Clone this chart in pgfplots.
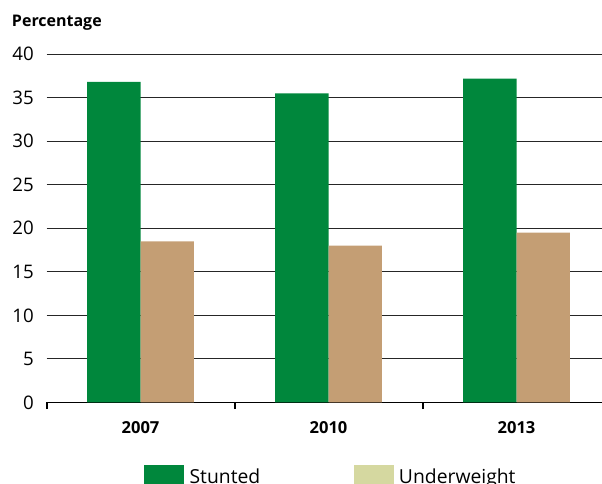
\documentclass[border=0pt]{standalone}
\usepackage{fontspec}
\setmainfont{Open Sans}
\usepackage{pgfplots}
\pgfplotsset{compat=1.18}
\definecolor{stunted}{RGB}{0,135,60}
\definecolor{under}{RGB}{196,158,116}
\definecolor{underleg}{RGB}{213,216,160}
\pgfplotsset{mylegend/.style={legend image code/.code={\fill[##1] (0pt,-15pt) rectangle (30pt,9.1pt);}}}
\begin{document}
\begin{tikzpicture}
\begin{axis}[
  at={(34.875pt,60.45pt)}, anchor=south west,
  scale only axis, width=423pt, height=261.2pt,
  xmin=-0.5, xmax=2.5, ymin=0, ymax=40,
  axis x line*=bottom, axis y line*=left,
  x axis line style={black, line width=1.2pt},
  y axis line style={draw=none},
  ytick={0,5,...,40},
  ymajorgrids, grid style={black!85, line width=0.75pt},
  xtick={0,1,2}, xticklabels={2007,2010,2013},
  minor xtick={-0.5,0.5,1.5,2.5},
  major tick length=0pt, minor tick length=5pt, tick align=outside,
  every minor tick/.style={black, line width=1.5pt},
  /pgf/number format/assume math mode=true,
  yticklabel style={font=\fontsize{14}{16}\selectfont, inner sep=0pt, xshift=-9.4pt},
  xticklabel style={font=\bfseries\fontsize{12.4}{14}\selectfont, inner sep=0pt, yshift=-14.5pt},
  legend columns=2,
  legend style={draw=none, fill=none, inner sep=0pt, at={(0.1729,-0.1797)}, anchor=north west,
    font=\fontsize{14.5}{17}\selectfont, nodes={inner sep=0pt},
    /tikz/every odd column/.append style={column sep=4pt},
    /tikz/every even column/.append style={column sep=70pt}},
]
\addplot[ybar, bar width=40.1pt, bar shift=-20.05pt, fill=stunted, draw=none, forget plot]
  coordinates {(0,36.8) (1,35.5) (2,37.2)};
\addplot[ybar, bar width=40.1pt, bar shift=20.05pt, fill=under, draw=none, forget plot]
  coordinates {(0,18.5) (1,18.0) (2,19.5)};
\addlegendimage{mylegend, fill=stunted, draw=none}
\addlegendentry{Stunted}
\addlegendimage{mylegend, fill=underleg, draw=none}
\addlegendentry{Underweight}
\end{axis}
\node[anchor=base west, inner sep=0pt, font=\bfseries\fontsize{12}{14}\selectfont] at (8.8pt,342.2pt) {Percentage};
\pgfresetboundingbox
\useasboundingbox (0,0) rectangle (451.5pt,362.25pt);
\end{tikzpicture}
\end{document}
